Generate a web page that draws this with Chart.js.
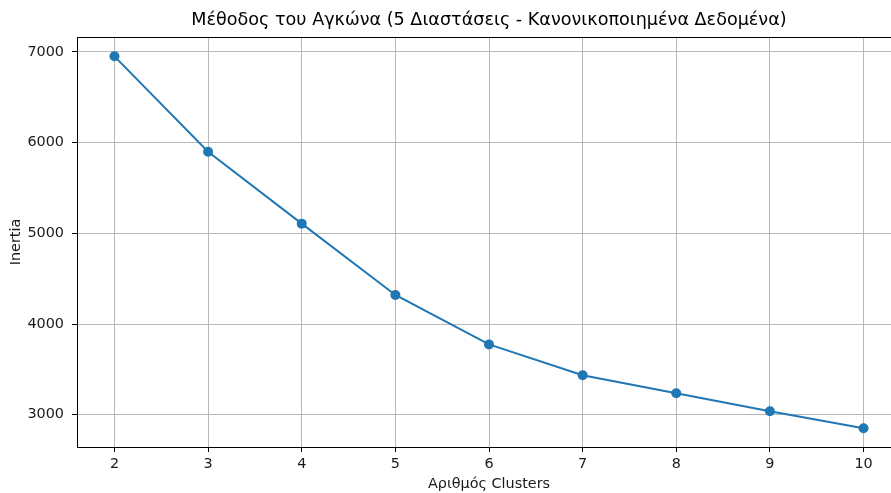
<!DOCTYPE html>
<html>
<head>
<meta charset="utf-8">
<script src="https://cdn.jsdelivr.net/npm/chart.js@4.4.1/dist/chart.umd.min.js"></script>
<style>
  html, body { margin: 0; padding: 0; background: #fff; overflow: hidden; }
  #wrap { width: 978px; height: 493px; }
</style>
</head>
<body>
<div id="wrap"><canvas id="elbow" width="978" height="493"></canvas></div>
<script>
// Elbow method: inertia for each number of clusters
const clusterCounts = [2, 3, 4, 5, 6, 7, 8, 9, 10];
const inertiaValues = [6952, 5900, 5107, 4321, 3775, 3436, 3237, 3038, 2850];
const xTickValues = [2, 3, 4, 5, 6, 7, 8, 9, 10];
const yTickValues = [3000, 4000, 5000, 6000, 7000];

const FONT = "'DejaVu Sans', 'Liberation Sans', sans-serif";
const LABEL_SIZE = 14.4;
const BLUE = '#1f77b4';

// top and right spines of the axes box
const frameLines = {
  id: 'frameLines',
  afterDraw(chart) {
    const { ctx, chartArea: a } = chart;
    ctx.save();
    ctx.strokeStyle = '#000';
    ctx.lineWidth = 1;
    ctx.beginPath();
    ctx.moveTo(a.left, Math.round(a.top) + 0.5);
    ctx.lineTo(a.right, Math.round(a.top) + 0.5);
    ctx.moveTo(Math.round(a.right) + 0.5, a.top);
    ctx.lineTo(Math.round(a.right) + 0.5, a.bottom);
    ctx.stroke();
    ctx.restore();
  }
};

new Chart(document.getElementById('elbow'), {
  type: 'line',
  data: {
    datasets: [{
      data: clusterCounts.map((k, i) => ({ x: k, y: inertiaValues[i] })),
      borderColor: BLUE,
      backgroundColor: BLUE,
      borderWidth: 2,
      pointRadius: 5,
      pointHoverRadius: 5,
      pointBorderWidth: 0,
      pointBackgroundColor: BLUE,
      tension: 0,
      clip: false
    }]
  },
  options: {
    responsive: false,
    animation: false,
    events: [],
    layout: { padding: { left: 0, right: 77, top: 0, bottom: 0 } },
    plugins: {
      legend: { display: false },
      tooltip: { enabled: false },
      title: {
        display: true,
        fullSize: false,
        text: 'Μέθοδος του Αγκώνα (5 Διαστάσεις - Κανονικοποιημένα Δεδομένα)',
        color: '#000',
        font: { family: FONT, size: 17.6, weight: 'normal', lineHeight: 1.2 },
        padding: { top: 9.5, bottom: 6.4 }
      }
    },
    scales: {
      x: {
        type: 'linear',
        min: 1.6,
        max: 10.4,
        afterBuildTicks: s => { s.ticks = xTickValues.map(v => ({ value: v })); },
        afterFit: s => { s.height = 46; },
        ticks: {
          color: '#1a1a1a',
          font: { family: FONT, size: LABEL_SIZE },
          padding: 4,
          maxRotation: 0,
          callback: v => String(v)
        },
        grid: { color: '#b8b8b8', lineWidth: 1, tickColor: '#000', tickLength: 5, tickWidth: 1 },
        border: { display: true, color: '#000', width: 1 },
        title: {
          display: true,
          text: 'Αριθμός Clusters',
          color: '#1a1a1a',
          font: { family: FONT, size: LABEL_SIZE, lineHeight: 1.2 },
          padding: { top: 0, bottom: 0 }
        }
      },
      y: {
        type: 'linear',
        min: 2644,
        max: 7165,
        afterBuildTicks: s => { s.ticks = yTickValues.map(v => ({ value: v })); },
        afterFit: s => { s.width = 77; },
        ticks: {
          color: '#1a1a1a',
          font: { family: FONT, size: LABEL_SIZE },
          padding: 8,
          callback: v => String(v)
        },
        grid: { color: '#b8b8b8', lineWidth: 1, tickColor: '#000', tickLength: 5, tickWidth: 1 },
        border: { display: true, color: '#000', width: 1 },
        title: {
          display: true,
          text: 'Inertia',
          color: '#1a1a1a',
          font: { family: FONT, size: LABEL_SIZE, lineHeight: 1.2 },
          padding: { top: 8, bottom: 0 }
        }
      }
    }
  },
  plugins: [frameLines]
});
</script>
</body>
</html>
